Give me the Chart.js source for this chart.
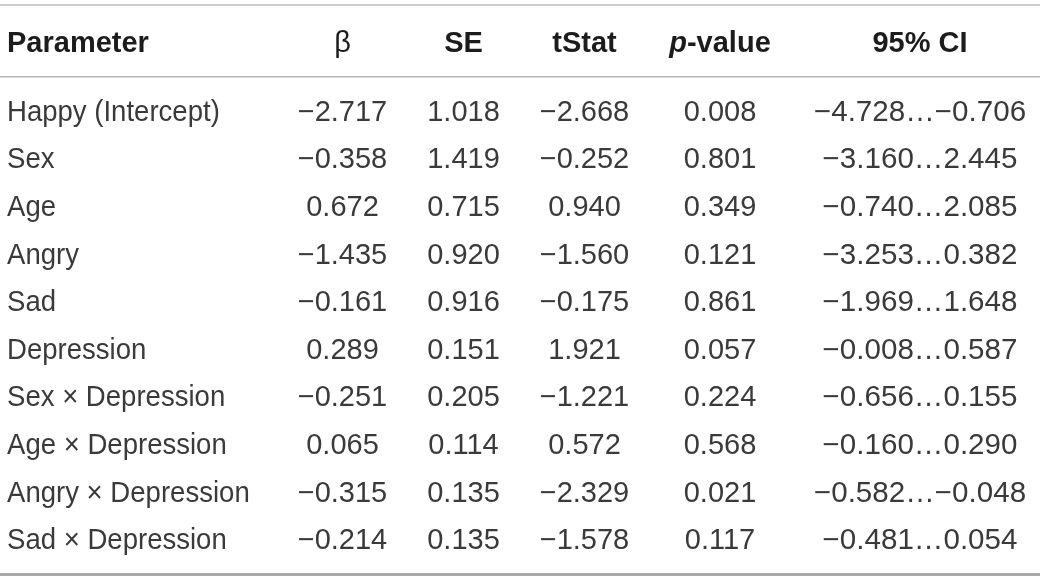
<!DOCTYPE html>
<html>
<head>
<meta charset="utf-8">
<script src="https://cdn.jsdelivr.net/npm/chart.js@4.4.1/dist/chart.umd.min.js"></script>
<style>
  html, body { margin: 0; padding: 0; background: #ffffff; }
  #wrap { width: 1040px; height: 580px; }
</style>
</head>
<body>
<div id="wrap"><canvas id="c" width="1040" height="580"></canvas></div>
<script>
// ---- DATA ----
const columns = ["Parameter", "β", "SE", "tStat", "p-value", "95% CI"];
const parameters = ["Happy (Intercept)", "Sex", "Age", "Angry", "Sad", "Depression",
  "Sex × Depression", "Age × Depression", "Angry × Depression", "Sad × Depression"];
const beta   = [-2.717, -0.358, 0.672, -1.435, -0.161, 0.289, -0.251, 0.065, -0.315, -0.214];
const se     = [1.018, 1.419, 0.715, 0.920, 0.916, 0.151, 0.205, 0.114, 0.135, 0.135];
const tStat  = [-2.668, -0.252, 0.940, -1.560, -0.175, 1.921, -1.221, 0.572, -2.329, -1.578];
const pValue = [0.008, 0.801, 0.349, 0.121, 0.861, 0.057, 0.224, 0.568, 0.021, 0.117];
const ciLow  = [-4.728, -3.160, -0.740, -3.253, -1.969, -0.008, -0.656, -0.160, -0.582, -0.481];
const ciHigh = [-0.706, 2.445, 2.085, 0.382, 1.648, 0.587, 0.155, 0.290, -0.048, 0.054];

// ---- LAYOUT (scale units) ----
const COL_X = [7, 342.5, 463.5, 584.5, 720, 920];
const COL_ALIGN = ["left", "center", "center", "center", "center", "center"];
const COL_SCALEX = [0.95, 1, 1, 1, 1, 1.02];
const HEADER_Y = -1.4496;
const RULES_Y = [-2.2164, -0.7101, 9.7479];
const RULE_W = [1.5, 1.5, 3];
const RULE_C = ['#bdbdbd', '#b5b5b5', '#a9a9a9'];
const FONT_FAMILY = '"Liberation Sans", Arial, Helvetica, sans-serif';
const FONT_SIZE = 29;

const fmt = v => v.toFixed(3).replace('-', '\u2212');
const cellTexts = [
  parameters,
  beta.map(fmt),
  se.map(fmt),
  tStat.map(fmt),
  pValue.map(fmt),
  ciLow.map((lo, i) => fmt(lo) + '\u2026' + fmt(ciHigh[i]))
];

const datasets = [];
// header row
datasets.push({
  type: 'scatter',
  data: columns.map((_, c) => ({ x: COL_X[c], y: HEADER_Y })),
  pointRadius: 0, pointHoverRadius: 0,
  cellText: columns, cellAlign: COL_ALIGN, cellScale: columns.map(() => 1), isHeader: true
});
// body columns
cellTexts.forEach((texts, c) => {
  datasets.push({
    type: 'scatter',
    data: texts.map((_, i) => ({ x: COL_X[c], y: i })),
    pointRadius: 0, pointHoverRadius: 0,
    cellText: texts, cellAlign: texts.map(() => COL_ALIGN[c]),
    cellScale: texts.map(() => COL_SCALEX[c]), isHeader: false
  });
});
// horizontal rules
RULES_Y.forEach((y, k) => {
  datasets.push({
    type: 'line',
    data: [{ x: 0, y: y }, { x: 1040, y: y }],
    borderColor: RULE_C[k], borderWidth: RULE_W[k],
    pointRadius: 0, fill: false
  });
});

function drawScaled(ctx, txt, x, y, align, sx) {
  const w = ctx.measureText(txt).width * sx;
  let x0 = x;
  if (align === 'center') x0 = x - w / 2;
  else if (align === 'right') x0 = x - w;
  ctx.save();
  ctx.translate(x0, y);
  ctx.scale(sx, 1);
  ctx.textAlign = 'left';
  ctx.fillText(txt, 0, 0);
  ctx.restore();
}

const tablePlugin = {
  id: 'tableText',
  afterDatasetsDraw(chart) {
    const ctx = chart.ctx;
    ctx.save();
    ctx.textBaseline = 'alphabetic';
    chart.data.datasets.forEach((ds, di) => {
      if (!ds.cellText) return;
      const meta = chart.getDatasetMeta(di);
      meta.data.forEach((el, i) => {
        const txt = ds.cellText[i];
        const align = ds.cellAlign[i];
        const sx = ds.cellScale[i];
        const base = el.y + FONT_SIZE * 0.358;
        if (ds.isHeader) {
          ctx.fillStyle = '#1c1c1c';
          const fB = 'bold ' + FONT_SIZE + 'px ' + FONT_FAMILY;
          if (txt === 'p-value') {
            const fI = 'italic bold ' + FONT_SIZE + 'px ' + FONT_FAMILY;
            ctx.font = fI; const w1 = ctx.measureText('p').width;
            ctx.font = fB; const w2 = ctx.measureText('-value').width;
            const x0 = el.x - (w1 + w2) / 2;
            ctx.textAlign = 'left';
            ctx.font = fI; ctx.fillText('p', x0, base);
            ctx.font = fB; ctx.fillText('-value', x0 + w1, base);
            return;
          }
          ctx.font = (txt === 'β' ? '' : 'bold ') + FONT_SIZE + 'px ' + FONT_FAMILY;
        } else {
          ctx.fillStyle = '#3a3a3a';
          ctx.font = FONT_SIZE + 'px ' + FONT_FAMILY;
        }
        drawScaled(ctx, txt, el.x, base, align, sx);
      });
    });
    ctx.restore();
  }
};

new Chart(document.getElementById('c'), {
  type: 'scatter',
  data: { datasets: datasets },
  options: {
    responsive: false,
    animation: false,
    layout: { padding: 0 },
    plugins: { legend: { display: false }, tooltip: { enabled: false } },
    scales: {
      x: { type: 'linear', min: 0, max: 1040, display: false },
      y: { type: 'linear', min: -2.3214, max: 9.8634, reverse: true, display: false }
    }
  },
  plugins: [tablePlugin]
});
</script>
</body>
</html>
